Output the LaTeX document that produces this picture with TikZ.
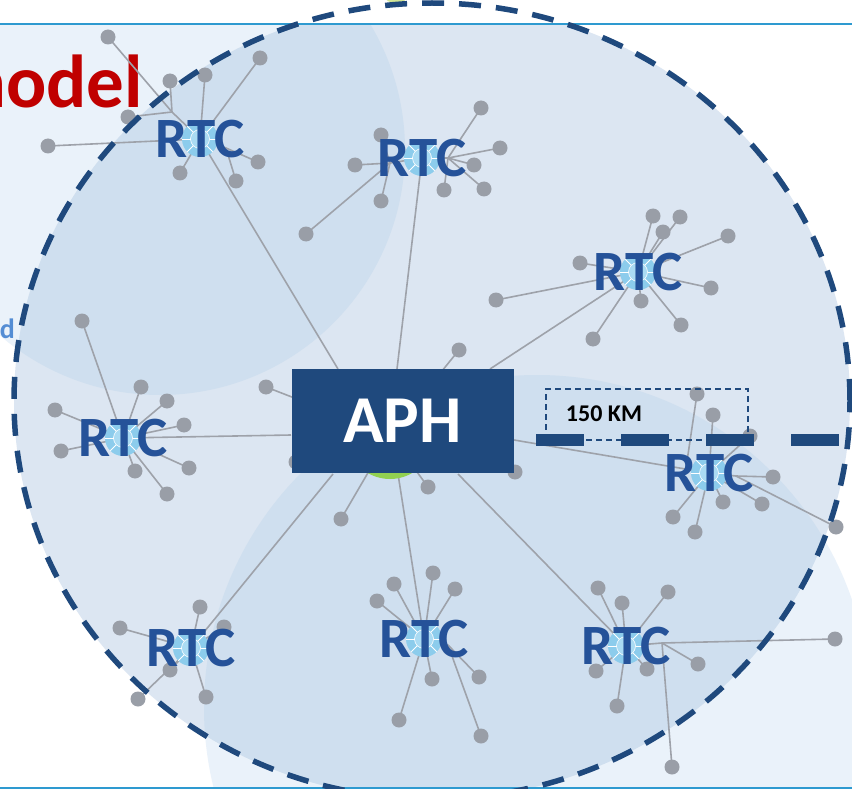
\documentclass[tikz,border=0pt]{standalone}
\usepackage{fontspec}
\setmainfont{Carlito}
\usetikzlibrary{shapes.geometric}

\definecolor{ellc}{RGB}{220,230,242}
\definecolor{overc}{RGB}{207,223,239}
\definecolor{outerc}{RGB}{234,242,250}
\definecolor{navy}{RGB}{31,73,125}
\definecolor{rtcblue}{RGB}{37,82,153}
\definecolor{spokec}{RGB}{158,162,170}
\definecolor{dotc}{RGB}{153,158,167}
\definecolor{ringc}{RGB}{140,204,236}
\definecolor{ringin}{RGB}{170,219,243}
\definecolor{corec}{RGB}{146,208,80}
\definecolor{corelt}{RGB}{208,228,150}
\definecolor{titlered}{RGB}{192,0,0}
\definecolor{sidetxt}{RGB}{84,141,212}
\definecolor{rulec}{RGB}{46,154,208}

% dots: name / x / y / where its spoke goes
\def\dotlist{%
 h1a/108/37/j1l, h1b/170/81/j1l, h1c/128/117/j1l, h1d/48/146/h1, h1e/205/75/h1,
 h1f/260/58/h1, h1g/180/173/h1, h1h/236/181/j1r, h1i/258/162/j1r,
 h2a/381/135/j2l, h2b/355/165/j2l, h2c/381/201/j2l, h2d/306/234/j2l, h2e/481/108/j2r,
 h2f/500/148/j2r, h2g/474/165/j2r, h2h/444/190/j2r, h2i/484/189/j2r,
 h3a/653/216/h3, h3b/680/217/h3, h3c/663/232/h3, h3d/728/236/h3, h3e/580/263/h3,
 h3f/496/300/h3, h3g/641/301/h3, h3h/711/288/h3, h3i/681/325/h3, h3j/593/339/h3,
 h4a/82/321/h4, h4b/141/387/h4, h4c/167/401/h4, h4d/184/425/h4, h4e/55/410/h4,
 h4f/61/451/h4, h4g/135/471/h4, h4h/189/468/h4, h4i/167/494/h4,
 h5a/697/394/j5l, h5b/713/415/h5, h5c/750/436/h5, h5d/773/477/j5r, h5e/762/504/h5,
 h5f/723/502/h5, h5g/673/517/h5, h5h/695/532/h5, h5i/836/527/j5r,
 h6a/200/607/h6, h6b/224/627/h6, h6c/120/628/h6, h6d/170/670/h6, h6e/138/699/h6,
 h6f/206/697/h6,
 h7a/394/584/h7, h7b/433/573/h7, h7c/455/589/h7, h7d/377/601/h7, h7e/479/677/j7r,
 h7f/432/679/h7, h7g/399/720/h7, h7h/481/736/j7r,
 h8a/598/588/h8, h8b/622/603/h8, h8c/668/592/h8, h8d/835/639/j8r, h8e/698/664/j8r,
 h8f/647/669/h8, h8g/596/671/h8, h8h/617/706/h8, h8i/672/767/j8r,
 p1/266/387/aphcore, p2/459/350/aphcore, p3/296/462/aphcore, p4/428/487/aphcore,
 p5/341/519/aphcore, p6/515/472/aphcore}

\tikzset{
  spoke/.style={draw=spokec, line width=1.6pt},
  rtc/.style={text=rtcblue, font=\fontsize{57}{57}\selectfont\bfseries, inner sep=0pt},
  aphbox/.style={fill=navy, text=white, font=\fontsize{67}{67}\selectfont\bfseries,
    minimum width=222pt, minimum height=104pt, inner sep=0pt},
  hubring/.pic={
    \fill[ringc] (0,0) circle[radius=18pt];
    \fill[ringin] (0,0) circle[radius=9.5pt];
    \foreach \a in {0,45,...,315} \draw[white, line width=0.8pt] (\a:9.5pt) -- (\a:18pt);
    \draw[white, line width=0.6pt] (0,0) circle[radius=9.5pt];
  }
}

\begin{document}
\begin{tikzpicture}[x=1pt,y=-1pt]
\useasboundingbox (0,0) rectangle (852,789);
\fill[white] (0,0) rectangle (852,789);

% coverage areas
\begin{scope}
  \clip (0,24) rectangle (852,787);
  \fill[outerc] (160,150) circle[radius=245pt];
  \fill[outerc] (537,708) circle[radius=333pt];
  \fill[ellc] (432,401) ellipse[x radius=418pt, y radius=398pt];
  \clip (432,401) ellipse[x radius=418pt, y radius=398pt];
  \fill[overc] (160,150) circle[radius=245pt];
  \fill[overc] (537,708) circle[radius=333pt];
\end{scope}

% page rules
\draw[rulec, line width=2.5pt] (0,24) -- (852,24);
\draw[rulec, line width=3pt] (0,788) -- (852,788);

% left margin texts
\node[anchor=base east, text=titlered, font=\fontsize{75}{75}\selectfont\bfseries, inner sep=0pt]
  (title) at (143,108) {model};
\node[anchor=base east, text=sidetxt, font=\fontsize{28}{28}\selectfont\bfseries, inner sep=0pt]
  (side) at (15,338) {d};

% hubs and junctions
\coordinate (aphcore) at (390,435);
\coordinate (h1) at (200,139);
\coordinate (h2) at (422,158);
\coordinate (h3) at (638,272);
\coordinate (h4) at (123,438);
\coordinate (h5) at (709,473);
\coordinate (h6) at (191,648);
\coordinate (h7) at (424,639);
\coordinate (h8) at (626,646);
\coordinate (j1l) at (172,112);
\coordinate (j1r) at (226,148);
\coordinate (j2l) at (390,163);
\coordinate (j2r) at (448,158);
\coordinate (j5l) at (686,468);
\coordinate (j5r) at (736,476);
\coordinate (j7r) at (448,645);
\coordinate (j8r) at (662,643);

% points where the hub links leave the APH box
\coordinate (a1) at (338,369);
\coordinate (a2) at (397,369);
\coordinate (a3) at (490,369);
\coordinate (a4) at (291,435);
\coordinate (a5) at (514,440);
\coordinate (a6) at (333,474);
\coordinate (a7) at (398,474);
\coordinate (a8) at (458,474);

% spokes
\foreach \n/\x/\y/\t in \dotlist {
  \coordinate (\n) at (\x,\y);
  \draw[spoke] (\n) -- (\t);
}
\foreach \a/\b in {j1l/h1, j1r/h1, j2l/h2, j2r/h2, j5l/h5, j5r/h5, j7r/h7, j8r/h8}
  \draw[spoke] (\a) -- (\b);
\foreach \a/\b in {a1/h1, a2/h2, a3/h3, a4/h4, a5/h5, a6/h6, a7/h7, a8/h8}
  \draw[spoke] (\a) -- (\b);

% end points
\foreach \n/\x/\y/\t in \dotlist
  \fill[dotc] (\n) circle[radius=7.5pt];

% regional centres
\foreach \h in {h1,h2,h3,h4,h5,h6,h7,h8} {
  \pic at (\h) {hubring};
  \node[rtc] (t\h) at (\h) {RTC};
}

% national hub
\fill[corelt] (396,-3) ellipse[x radius=11pt, y radius=6pt];
\fill[corec] (aphcore) circle[radius=44pt];
\node[aphbox] (aph) at (402.5,421) {APH};

% scale bar
\node[draw=navy, line width=1.5pt, dash pattern=on 6pt off 4pt, minimum width=202pt,
  minimum height=51pt, inner sep=0pt] (kmbox) at (647,414.5) {};
\node[font=\fontsize{24}{24}\selectfont\bfseries, inner sep=0pt] (km) at (604,414) {150 KM};
\coordinate (rs) at (536,440);
\coordinate (re) at (852,440);
\draw[navy, line width=12pt, dash pattern=on 48pt off 37pt] (rs) -- (re);

% service area boundary
\node[ellipse, draw=navy, line width=5.5pt, dash pattern=on 22pt off 15pt,
  minimum width=836pt, minimum height=796pt, inner sep=0pt] (area) at (432,401) {};
\end{tikzpicture}
\end{document}
